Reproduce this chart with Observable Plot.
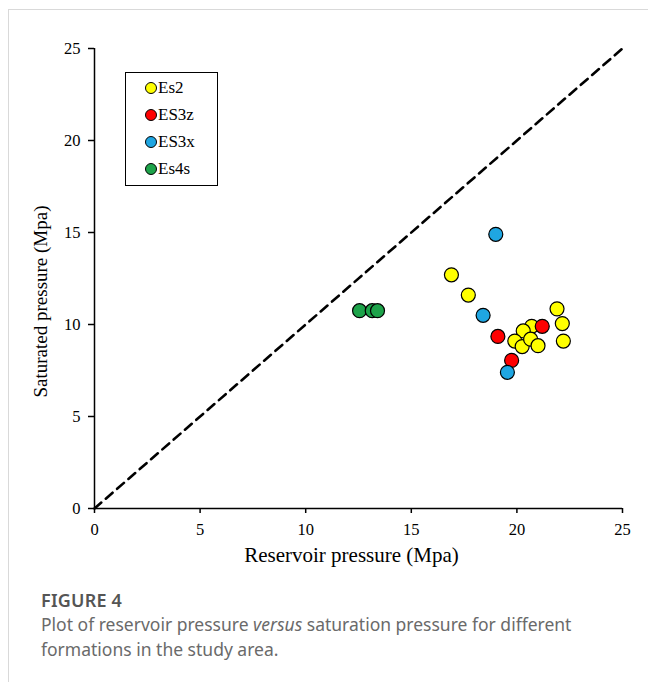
<!DOCTYPE html>
<html>
<head>
<meta charset="utf-8">
<script src="https://cdn.jsdelivr.net/npm/d3@7"></script>
<script src="https://cdn.jsdelivr.net/npm/@observablehq/plot@0.6"></script>
<style>
  html, body { margin: 0; padding: 0; background: #fff; }
  body { width: 648px; height: 682px; position: relative; overflow: hidden; }
  #card { position: absolute; left: 8px; top: 9px; right: -2px; bottom: -2px;
          border-top: 1px solid #d9d9d9; border-left: 1px solid #d9d9d9; }
  #chart { position: absolute; left: 0; top: 0; }
  #legend { position: absolute; left: 125px; top: 72px; width: 91px; height: 112px;
            border: 1.5px solid #000; background: #fff;
            font-family: "Liberation Serif", serif; font-size: 17px; color: #000; }
  #legend .item { position: absolute; left: 19px; display: flex; align-items: center; }
  #legend .sw { width: 12px; height: 12px; border-radius: 50%; border: 1px solid #000; margin-right: 1px; box-sizing: border-box; }
  #cap { position: absolute; left: 41px; top: 588px; font-family: "Noto Sans", sans-serif; }
  #cap .fig { font-size: 18px; font-weight: 600; color: #555; letter-spacing: 0.2px; }
  #cap .txt { font-size: 17.5px; color: #6a6a6a; line-height: 25px; margin-top: 0px; font-weight: 400; }
</style>
</head>
<body>
<div id="card"></div>
<div id="chart"></div>
<div id="legend"></div>
<div id="cap">
  <div class="fig">FIGURE 4</div>
  <div class="txt">Plot of reservoir pressure <i>versus</i> saturation pressure for different<br>formations in the study area.</div>
</div>
<script>
// ---- data ----
const seriesNames = ["Es2", "ES3z", "ES3x", "Es4s"];
const seriesColors = ["#ffff00", "#ff0000", "#1fa6e2", "#1da34a"];

const es2X  = [16.9, 17.7, 21.9, 22.15, 22.2, 20.7, 20.3, 19.9, 20.25, 20.65, 21.0];
const es2Y  = [12.7, 11.6, 10.85, 10.05, 9.1, 9.9, 9.65, 9.1, 8.8, 9.2, 8.85];
const es3zX = [21.2, 19.1, 19.75];
const es3zY = [9.9, 9.35, 8.05];
const es3xX = [19.0, 18.4, 19.55];
const es3xY = [14.9, 10.5, 7.4];
const es4sX = [12.55, 13.15, 13.4];
const es4sY = [10.75, 10.75, 10.75];

const xTicks = [0, 5, 10, 15, 20, 25];
const yTicks = [0, 5, 10, 15, 20, 25];
const diagonal = [0, 25];

const xLabel = "Reservoir pressure (Mpa)";
const yLabel = "Saturated pressure (Mpa)";

// ---- build table ----
const seriesX = [es2X, es3zX, es3xX, es4sX];
const seriesY = [es2Y, es3zY, es3xY, es4sY];
const points = [];
seriesNames.forEach((name, i) => {
  seriesX[i].forEach((x, j) => points.push({series: name, x, y: seriesY[i][j]}));
});
const diag = diagonal.map(v => ({x: v, y: v}));

const serif = "Liberation Serif, Times New Roman, serif";

const chart = Plot.plot({
  width: 648,
  height: 575,
  marginLeft: 94,
  marginRight: 26,
  marginTop: 48,
  marginBottom: 67,
  style: {fontFamily: serif, background: "transparent"},
  x: {domain: [0, 25]},
  y: {domain: [0, 25]},
  color: {domain: seriesNames, range: seriesColors},
  marks: [
    Plot.line(diag, {x: "x", y: "y", stroke: "#000", strokeWidth: 2.6, strokeDasharray: "9,6"}),
    Plot.ruleX([0], {stroke: "#000", strokeWidth: 1.5}),
    Plot.ruleY([0], {stroke: "#000", strokeWidth: 1.5}),
    Plot.axisX({ticks: xTicks, tickSize: 5, tickPadding: 10, fontSize: 16.5, label: null, stroke: "#000", strokeWidth: 1.5, color: "#000"}),
    Plot.axisY({ticks: yTicks, tickSize: 6, tickPadding: 8, fontSize: 16.5, label: null, stroke: "#000", strokeWidth: 1.5, color: "#000"}),
    Plot.text([xLabel], {frameAnchor: "bottom", dy: 53, dx: -7, fontSize: 21, fill: "#000", fontFamily: serif, lineAnchor: "bottom"}),
    Plot.text([yLabel], {frameAnchor: "left", dx: -54, dy: 23, rotate: -90, textAnchor: "middle", fontSize: 19, fill: "#000", fontFamily: serif}),
    Plot.dot(points, {x: "x", y: "y", fill: "series", r: 7, stroke: "#000", strokeWidth: 1.2})
  ]
});
document.getElementById("chart").appendChild(chart);

// ---- legend ----
const legend = document.getElementById("legend");
seriesNames.forEach((name, i) => {
  const item = document.createElement("div");
  item.className = "item";
  item.style.top = (5 + i * 27) + "px";
  const sw = document.createElement("span");
  sw.className = "sw";
  sw.style.background = seriesColors[i];
  const label = document.createElement("span");
  label.textContent = name;
  item.appendChild(sw);
  item.appendChild(label);
  legend.appendChild(item);
});
</script>
</body>
</html>
